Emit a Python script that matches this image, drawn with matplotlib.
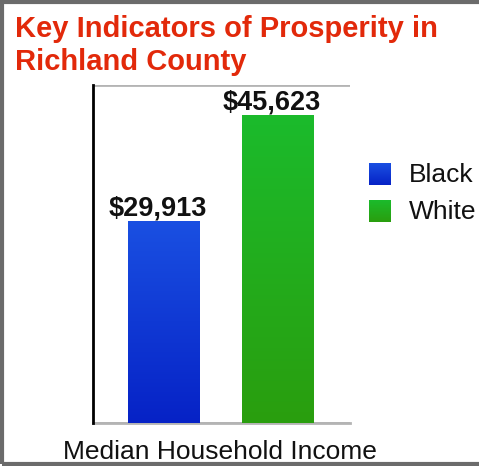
import numpy as np
import matplotlib
matplotlib.use("Agg")
import matplotlib.pyplot as plt
from matplotlib.colors import LinearSegmentedColormap
from matplotlib.patches import Rectangle

plt.rcParams['font.family'] = ['Liberation Sans', 'DejaVu Sans']

# Data
title = "Key Indicators of Prosperity in\nRichland County"
category = "Median Household Income"
groups = ["Black", "White"]
values = [29913, 45623]
value_labels = ["$29,913", "$45,623"]

# Gradient (top colour, bottom colour) for each group
gradients = [("#1a50e2", "#0622c6"), ("#1bbb2c", "#2a9e0e")]

fig = plt.figure(figsize=(4.79, 4.66), dpi=100)
fig.patch.set_facecolor("white")

ax = fig.add_axes([93 / 479, 1 - 423 / 466, 257 / 479, 338 / 466])
ax.set_yticks([0, 50000])
ax.set_xticks([])
ax.tick_params(axis='y', length=0, labelleft=False)
ax.yaxis.grid(True, color="#b4b4b4", linewidth=2)
ax.set_axisbelow(True)
for s in ["top", "right"]:
    ax.spines[s].set_visible(False)
ax.spines["bottom"].set_color("#b4b4b4")
ax.spines["bottom"].set_linewidth(2)
ax.spines["left"].set_color("black")
ax.spines["left"].set_linewidth(2)
ax.spines["left"].set_zorder(5)

width = 0.63
grad = np.linspace(1, 0, 256).reshape(-1, 1)
for i, (v, lab, (ctop, cbot)) in enumerate(zip(values, value_labels, gradients)):
    bar = ax.bar(i, v, width=width, color="none", edgecolor="none")[0]
    cmap = LinearSegmentedColormap.from_list(f"g{i}", [cbot, ctop])
    im = ax.imshow(grad, cmap=cmap, aspect="auto",
                   extent=[i - width / 2, i + width / 2, 0, v], zorder=3)
    im.set_clip_path(bar)
    ax.text(i - 0.05, v + 800, lab, ha="center", va="baseline", fontsize=19.5,
            fontweight="bold", color="#111111", zorder=4)
ax.set_xlim(-0.618, 1.636)
ax.set_ylim(0, 50000)

# Category label under the axis
fig.text(220 / 479, 1 - 459 / 466, category, ha="center", va="baseline",
         fontsize=19, color="#111111")

# Title
fig.text(15 / 479, 1 - 70 / 466, title, ha="left", va="baseline", fontsize=21,
         fontweight="bold", color="#e2290a", linespacing=1.22)

# Legend
for j, (g, (ctop, cbot)) in enumerate(zip(groups, gradients)):
    y0 = 163 + j * 37
    lax = fig.add_axes([369 / 479, 1 - (y0 + 22) / 466, 22 / 479, 22 / 466])
    cmap = LinearSegmentedColormap.from_list(f"l{j}", [cbot, ctop])
    lax.imshow(grad, cmap=cmap, aspect="auto", extent=[0, 1, 0, 1])
    lax.set_axis_off()
    fig.text(409 / 479, 1 - (y0 + 19) / 466, g, ha="left", va="baseline",
             fontsize=19, color="#111111")

# Frame around the chart
fig.add_artist(Rectangle((1.5 / 479, 2 / 466), 1.0, 1 - 4 / 466,
                         transform=fig.transFigure, fill=False,
                         edgecolor="#6b6b6b", linewidth=3, clip_on=False))

fig.savefig("out.png", dpi=100)
